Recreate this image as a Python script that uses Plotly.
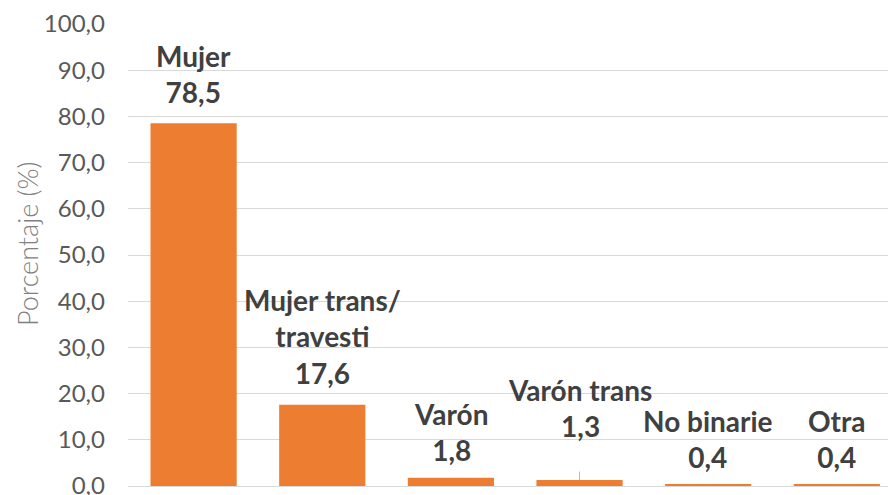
import plotly.graph_objects as go

categories = ["Mujer", "Mujer trans/<br>travesti", "Varón", "Varón trans", "No binarie", "Otra"]
values = [78.5, 17.6, 1.8, 1.3, 0.4, 0.4]
value_labels = ["78,5", "17,6", "1,8", "1,3", "0,4", "0,4"]
tick_vals = [0, 10, 20, 30, 40, 50, 60, 70, 80, 90, 100]
tick_text = ["0,0", "10,0", "20,0", "30,0", "40,0", "50,0", "60,0", "70,0", "80,0", "90,0", "100,0"]
y_title = "Porcentaje (%)"

# label placement (pixel shifts of label centre above bar top)
label_shift = [49, 68, 46, 72, 45, 45]

x_idx = list(range(len(categories)))

fig = go.Figure()
fig.add_trace(go.Bar(
    x=x_idx, y=values,
    marker=dict(color="#ED7D31", line=dict(width=0)),
    width=0.67,
    hoverinfo="skip",
))

for i, (cat, v, lab, sh) in enumerate(zip(categories, values, value_labels, label_shift)):
    fig.add_annotation(
        x=i, y=v, xref="x", yref="y",
        text=f"{cat}<br>{lab}",
        font=dict(family="Lato", size=28, color="#404040", weight="bold"),
        align="center",
        xanchor="center", yanchor="middle",
        showarrow=False,
        yshift=sh,
    )
    if cat == "Varón trans":
        fig.add_annotation(
            x=i, y=v, xref="x", yref="y", text="",
            showarrow=True, arrowhead=0, arrowwidth=0.8, arrowcolor="#A6A6A6",
            ax=0, ay=-10,
        )

fig.add_annotation(
    x=0, y=0.5, xref="paper", yref="paper",
    text=y_title, textangle=-90, showarrow=False,
    xanchor="center", yanchor="middle", xshift=-101, yshift=11,
    font=dict(family="Lato", size=27, color="#808080", weight=300),
    borderpad=0,
)

fig.update_layout(
    width=888, height=487,
    margin=dict(l=120, r=0, t=16, b=9),
    paper_bgcolor="white", plot_bgcolor="white",
    showlegend=False,
    xaxis=dict(
        range=[-0.51, 5.46], showticklabels=False, showgrid=False,
        zeroline=False, showline=False, ticks="",
    ),
    yaxis=dict(
        range=[0, 100], tickvals=tick_vals, ticktext=tick_text,
        showgrid=True, gridcolor="#D9D9D9", gridwidth=1,
        zeroline=True, zerolinecolor="#D9D9D9", zerolinewidth=1,
        tickfont=dict(family="Lato", size=24, color="#595959"),
        ticks="", ticklabelstandoff=22, automargin=False,
        ticklabeloverflow="allow",
    ),
)

fig.write_html("out.html")
